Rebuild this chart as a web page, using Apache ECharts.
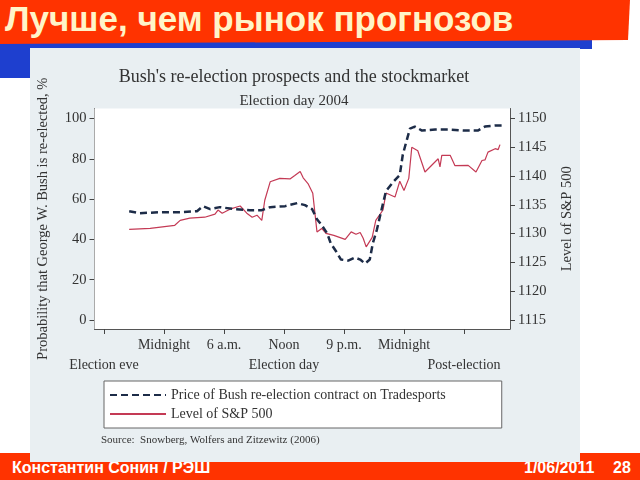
<!DOCTYPE html>
<html><head><meta charset="utf-8">
<script src="https://cdn.jsdelivr.net/npm/echarts@6/dist/echarts.min.js"></script>
<style>
html,body{margin:0;padding:0;width:640px;height:480px;overflow:hidden;background:#fff;}
#titlebar{position:absolute;left:0;top:0;width:630px;height:44px;background:#ff3300;clip-path:polygon(0 0,630px 0,628px 40px,0 44px);z-index:2;}
#titletext{position:absolute;left:5px;top:-1px;font:bold 35px "Liberation Sans",Arial,sans-serif;color:#fff4c8;white-space:nowrap;z-index:3;}
#blue1{position:absolute;left:0;top:36px;width:592px;height:13px;background:#1e3fcf;z-index:1;}
#blue2{position:absolute;left:0;top:36px;width:40px;height:42px;background:#1e3fcf;z-index:1;}
#footer{position:absolute;left:0;top:453px;width:640px;height:27px;background:#ff3300;z-index:1;}
.ft{position:absolute;top:459px;font:bold 16px "Liberation Sans",Arial,sans-serif;color:#fff;z-index:2;white-space:nowrap;}
#panel{position:absolute;left:30px;top:48px;width:550px;height:414px;background:#e9eff2;z-index:4;}
#chart{position:absolute;left:0;top:0;width:640px;height:480px;z-index:5;}
</style></head>
<body>
<div id="titlebar"></div>
<div id="blue1"></div><div id="blue2"></div>
<div id="titletext">Лучше, чем рынок прогнозов</div>
<div id="footer"></div>
<div class="ft" style="left:12px;">Константин Сонин / РЭШ</div>
<div class="ft" style="left:524px;">1/06/2011</div>
<div class="ft" style="left:613px;">28</div>
<div id="panel"></div>
<div id="chart"></div>
<script>
// x in tick units (0 = Election eve ... 6 = Post-election)
const tickPos = [0,1,2,3,4,5,6];
const timeLabels = ['','Midnight','6 a.m.','Noon','9 p.m.','Midnight',''];
const timePos = [1,2,3,4,5];
const phaseLabels = ['Election eve','','','Election day','','','Post-election'];
const phasePos = [0,3,6];
const probTicks = [0,20,40,60,80,100];
const spTicks = [1115,1120,1125,1130,1135,1140,1145,1150];

const bushX = [0.42,0.6,0.93,1.27,1.55,1.65,1.77,1.93,2.18,2.43,2.63,2.77,3.02,3.22,3.35,3.47,3.55,3.63,3.72,3.78,3.87,3.95,4.07,4.18,4.27,4.35,4.43,4.48,4.55,4.62,4.7,4.82,4.93,4.98,5.03,5.1,5.18,5.3,5.52,5.77,6.02,6.23,6.35,6.52,6.63];
const bushProb = [54,53,53.5,53.5,54,56.5,55,56,55,54.5,54.5,56,56.5,58,57,55,50,47,43,38,34,30,29.5,31,30,28,30,38,45,54,64,68.5,72,82,87.5,95,96,94,94.5,94.5,94,94,96,96.5,96.5];

const spX = [0.42,0.77,1.18,1.27,1.43,1.68,1.85,1.9,1.97,2.1,2.27,2.38,2.47,2.55,2.63,2.68,2.77,2.93,3.1,3.18,3.27,3.32,3.4,3.48,3.55,3.63,3.7,3.83,4.02,4.12,4.2,4.27,4.32,4.37,4.47,4.53,4.65,4.7,4.85,4.93,5.0,5.08,5.13,5.23,5.35,5.57,5.6,5.63,5.77,5.85,6.07,6.2,6.3,6.35,6.4,6.52,6.57,6.6];
const spLevel = [1130.75,1130.9,1131.45,1132.3,1132.7,1132.85,1133.4,1134.1,1133.55,1134.25,1134.8,1133.55,1132.85,1133.2,1132.3,1135.8,1139,1139.6,1139.5,1140.1,1140.8,1139.7,1138.7,1137,1130.3,1130.9,1130.05,1129.7,1129,1130.3,1129.9,1130.2,1129.2,1127.7,1129.35,1132.3,1134.1,1137.05,1136.35,1139.1,1137.5,1139.6,1145,1144.4,1140.7,1143,1141.6,1143.6,1143.6,1141.8,1141.85,1140.7,1142.7,1142.8,1144.15,1144.75,1144.6,1145.45];

const serif = '"Liberation Serif","Times New Roman",serif';
const txt = '#333';
const tickStyle = {show:true,length:5,lineStyle:{color:'#444',width:1}};
const chart = echarts.init(document.getElementById('chart'), null, {renderer:'canvas'});
chart.setOption({
  backgroundColor:'transparent',
  animation:false,
  title:[
    {text:"Bush's re-election prospects and the stockmarket",left:289,top:63,textAlign:'center',
     textStyle:{fontFamily:serif,fontSize:18,fontWeight:'normal',color:txt}},
    {text:'Election day 2004',left:289,top:89,textAlign:'center',
     textStyle:{fontFamily:serif,fontSize:15,fontWeight:'normal',color:txt}},
    {text:'Source:  Snowberg, Wolfers and Zitzewitz (2006)',left:96,top:430,
     textStyle:{fontFamily:serif,fontSize:11,fontWeight:'normal',color:txt}}
  ],
  grid:{left:94.5,right:130,top:108.5,bottom:151,show:true,backgroundColor:'#ffffff',borderWidth:0,z:1},
  xAxis:[
    {type:'value',min:-0.158,max:6.767,
     axisLine:{show:true,onZero:false,lineStyle:{color:'#555',width:1}},
     axisTick:Object.assign({customValues:tickPos},tickStyle),
     axisLabel:{customValues:timePos,showMinLabel:true,showMaxLabel:true,
       formatter:function(v){return timeLabels[Math.round(v)]||'';},
       fontFamily:serif,fontSize:14,color:txt,margin:9},
     splitLine:{show:false}},
    {type:'value',min:-0.158,max:6.767,position:'bottom',
     axisLine:{show:false,onZero:false},axisTick:{show:false},
     axisLabel:{customValues:phasePos,showMinLabel:true,showMaxLabel:true,
       formatter:function(v){return phaseLabels[Math.round(v)]||'';},
       fontFamily:serif,fontSize:14,color:txt,margin:29},
     splitLine:{show:false}}
  ],
  yAxis:[
    {type:'value',position:'left',min:-4.46,max:104.95,interval:20,
     name:'Probability that George W. Bush is re-elected, %',nameLocation:'middle',nameRotate:90,nameGap:44,
     nameTextStyle:{fontFamily:serif,fontSize:14.5,color:txt},
     axisLine:{show:true,onZero:false,lineStyle:{color:'#555'}},
     axisTick:Object.assign({customValues:probTicks},tickStyle),
     axisLabel:{customValues:probTicks,fontFamily:serif,fontSize:14.5,color:txt,margin:8},
     splitLine:{show:true,lineStyle:{color:'#eef2f4',width:1}}},
    {type:'value',position:'right',min:1113.44,max:1151.73,
     name:'Level of S&P 500',nameLocation:'middle',nameRotate:90,nameGap:50,
     nameTextStyle:{fontFamily:serif,fontSize:14.5,color:txt},
     axisLine:{show:true,onZero:false,lineStyle:{color:'#555'}},
     axisTick:Object.assign({customValues:spTicks},tickStyle),
     axisLabel:{customValues:spTicks,formatter:function(v){return String(Math.round(v));},
       fontFamily:serif,fontSize:14.5,color:txt,margin:8},
     splitLine:{show:false}}
  ],
  legend:{orient:'vertical',left:104,top:381,itemWidth:56,itemHeight:14,itemGap:5,
    padding:[7,56,7,5],backgroundColor:'#fff',borderColor:'#666',borderWidth:1,
    itemStyle:{opacity:0,color:'transparent',borderWidth:0},
    textStyle:{fontFamily:serif,fontSize:14,color:txt},
    data:['Price of Bush re-election contract on Tradesports','Level of S&P 500']},
  series:[
    {name:'Price of Bush re-election contract on Tradesports',type:'line',xAxisIndex:0,yAxisIndex:0,symbol:'none',
     data:bushX.map((x,i)=>[x,bushProb[i]]),
     lineStyle:{color:'#1d2c48',width:2.5,type:[7,4]},itemStyle:{color:'#1d2c48'},z:4},
    {name:'Level of S&P 500',type:'line',xAxisIndex:0,yAxisIndex:1,symbol:'none',
     data:spX.map((x,i)=>[x,spLevel[i]]),
     lineStyle:{color:'#c43a55',width:1.2},itemStyle:{color:'#c43a55'},z:3}
  ]
});
</script>
</body></html>
